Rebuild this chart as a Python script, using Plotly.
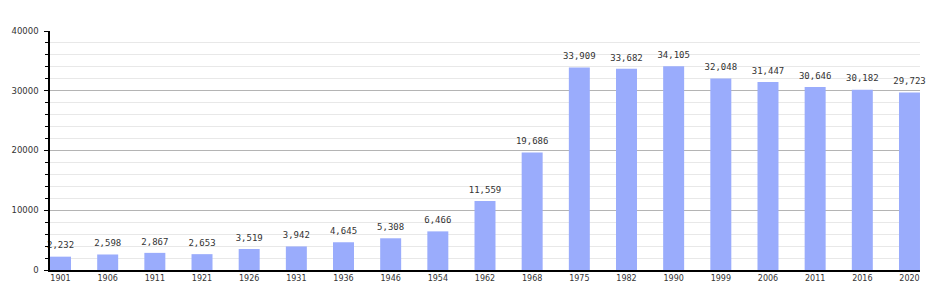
import plotly.graph_objects as go

years = ["1901", "1906", "1911", "1921", "1926", "1931", "1936", "1946", "1954", "1962",
         "1968", "1975", "1982", "1990", "1999", "2006", "2011", "2016", "2020"]
population = [2232, 2598, 2867, 2653, 3519, 3942, 4645, 5308, 6466, 11559,
              19686, 33909, 33682, 34105, 32048, 31447, 30646, 30182, 29723]
y_ticks = [0, 10000, 20000, 30000, 40000]

fig = go.Figure()
fig.add_trace(go.Bar(
    x=years, y=population,
    marker=dict(color="#9aacfc", line=dict(width=0)),
    width=0.445, hoverinfo="x+y",
))
fig.add_trace(go.Scatter(
    x=years, y=population, mode="markers+text",
    marker=dict(size=8, opacity=0),
    text=[f"{v:,}" for v in population], textposition="top center",
    textfont=dict(family="DejaVu Sans Mono", size=9, color="#333333"),
    cliponaxis=False, hoverinfo="skip",
))

fig.update_layout(
    width=950, height=300,
    margin=dict(l=50, r=30, t=31, b=30),
    plot_bgcolor="white", paper_bgcolor="white",
    showlegend=False,
)
fig.update_xaxes(
    type="category", range=[-0.223, 18.223],
    showline=True, linecolor="black", linewidth=1.5,
    ticks="", showgrid=False,
    tickfont=dict(family="DejaVu Sans", size=8, color="#333333"),
)
fig.update_yaxes(
    range=[0, 40000], tickvals=y_ticks, ticktext=[str(v) for v in y_ticks],
    showline=True, linecolor="black", linewidth=1.5,
    ticks="outside", ticklen=4, tickcolor="black",
    ticklabelstandoff=4,
    showgrid=True, gridcolor="#b4b4b4", gridwidth=1,
    zeroline=False,
    tickfont=dict(family="DejaVu Sans", size=8.5, color="#333333"),
    minor=dict(dtick=2000, showgrid=True, gridcolor="#e8e8e8", ticks="outside",
               ticklen=3, tickcolor="black"),
)

fig.write_html("out.html")
